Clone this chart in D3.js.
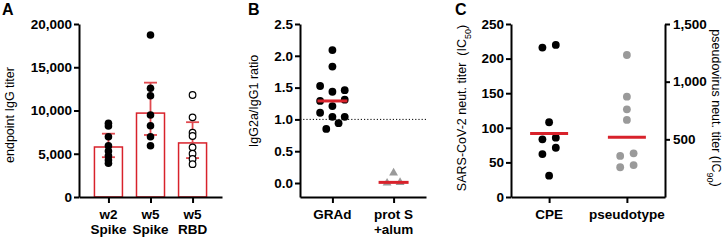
<!DOCTYPE html>
<html lang="en">
<head>
<meta charset="UTF-8" />
<title>Immunogenicity panels</title>
<style>
  body { margin: 0; background: #fff; }
  text { font-family: "Liberation Sans", Arial, sans-serif; }
</style>
</head>
<body>
<svg id="chart" width="724" height="240"></svg>
<script src="https://d3js.org/d3.v7.min.js"></script>
<script>
// ---- data ----
// panel A: endpoint IgG titer
const groupsA = ['w2|Spike', 'w5|Spike', 'w5|RBD'];
const meanA = [5780, 9700, 6250];
const errLowA = [4600, 7170, 4500];
const errHighA = [7320, 13220, 8650];
const w2Spike = [8520, 8210, 6970, 5920, 5320, 4770, 4280, 3900];
const w5Spike = [18730, 12570, 11710, 9480, 8240, 6970, 5930];
const w5RBD = [11790, 9210, 7430, 7050, 5740, 5000, 4400, 3800];
const ticksA = [0, 5000, 10000, 15000, 20000];

// panel B: IgG2a/IgG1 ratio
const groupsB = ['GRAd', 'prot S|+alum'];
const ratioGRAd = [2.09, 1.83, 1.525, 1.435, 1.46, 1.29, 1.21, 1.31, 1.105, 1.04, 1.04, 0.85, 0.94];
const ratioProtS = [0.16, 0.0, 0.01];
const ticksB = [0, 0.5, 1.0, 1.5, 2.0, 2.5];

// panel C: neutralisation titers
const groupsC = ['CPE', 'pseudotype'];
const cpeIC50 = [216, 219.7, 108, 83.4, 85.7, 62.1, 71.2, 30.8];
const pseudoIC90 = [1231, 870, 760, 668, 356, 379, 258, 277];
const ticksCLeft = [0, 50, 100, 150, 200, 250];
const ticksCRight = [500, 1000, 1500];

// ---- setup ----
const svg = d3.select('#chart');
const red = '#d8222b';
const gray = '#9a9a9a';
const yTop = 24, yBottom = 197;

// points with overlapping y share a row and are spread sideways
function rowOffsets(vals, y, spacing, diam) {
  const order = d3.range(vals.length).sort((a, b) => y(vals[a]) - y(vals[b]));
  const off = vals.map(() => 0);
  let row = [], start = null;
  const flush = () => {
    row.sort((a, b) => a - b);
    row.forEach((k, j) => off[k] = (j - (row.length - 1) / 2) * spacing);
  };
  order.forEach(k => {
    const py = y(vals[k]);
    if (start === null || py - start >= diam) {
      if (row.length) flush();
      row = [k]; start = py;
    } else row.push(k);
  });
  flush();
  return off;
}

function styleAxis(g) {
  g.select('.domain').attr('stroke', '#000').attr('stroke-width', 2);
  g.selectAll('.tick line').attr('stroke', '#000').attr('stroke-width', 2);
  g.selectAll('.tick text').attr('font-size', 13.5).attr('font-weight', 'bold')
    .attr('font-family', '"Liberation Sans", Arial, sans-serif').attr('fill', '#000');
}

function bottomAxis(x) {
  const g = svg.append('g').attr('transform', `translate(0,${yBottom})`)
    .call(d3.axisBottom(x).tickSize(6).tickSizeOuter(0).tickFormat(''));
  styleAxis(g);
  x.domain().forEach(name => {
    const t = svg.append('text').attr('x', x(name)).attr('y', 219)
      .attr('text-anchor', 'middle').attr('font-size', 13.5).attr('font-weight', 'bold');
    name.split('|').forEach((line, i) => {
      t.append('tspan').attr('x', x(name)).attr('dy', i ? 15 : 0).text(line);
    });
  });
}

function yLabel(x, y, rot, parts) {
  const t = svg.append('text')
    .attr('transform', `translate(${x},${y}) rotate(${rot})`)
    .attr('text-anchor', 'middle').attr('font-size', 12.5);
  parts.forEach(p => {
    const s = t.append('tspan').text(p[0]);
    if (p[1]) s.attr('font-size', 9).attr('baseline-shift', 'sub');
  });
}

function panelLetter(x, l) {
  svg.append('text').attr('x', x).attr('y', 15).attr('font-size', 16)
    .attr('font-weight', 'bold').text(l);
}

// ---- panel A ----
panelLetter(2, 'A');
const xA = d3.scalePoint().domain(groupsA).range([79, 222]).padding(0.7);
const yA = d3.scaleLinear().domain([0, 20000]).range([yBottom, yTop]);
const ptsA = [w2Spike, w5Spike, w5RBD];

svg.append('g').selectAll('rect').data(meanA).join('rect')
  .attr('x', (d, i) => xA(groupsA[i]) - 14).attr('width', 28)
  .attr('y', d => yA(d)).attr('height', d => yBottom - yA(d))
  .attr('fill', '#fff').attr('stroke', red).attr('stroke-width', 1.5);

const errA = svg.append('g').attr('stroke', '#e04a50').attr('stroke-width', 1.8);
groupsA.forEach((gname, i) => {
  const cx = xA(gname);
  errA.append('line').attr('x1', cx).attr('x2', cx).attr('y1', yA(errLowA[i])).attr('y2', yA(errHighA[i]));
  [errLowA[i], errHighA[i]].forEach(v => {
    errA.append('line').attr('x1', cx - 6.5).attr('x2', cx + 6.5).attr('y1', yA(v)).attr('y2', yA(v));
  });
});

ptsA.forEach((vals, i) => {
  svg.append('g').selectAll('circle').data(vals).join('circle')
    .attr('cx', xA(groupsA[i])).attr('cy', d => yA(d))
    .attr('r', i === 2 ? 3.3 : 3.8)
    .attr('fill', i === 2 ? '#fff' : '#000')
    .attr('stroke', '#000').attr('stroke-width', i === 2 ? 1.2 : 0);
});

styleAxis(svg.append('g').attr('transform', 'translate(79,0)')
  .call(d3.axisLeft(yA).tickValues(ticksA).tickSize(5).tickPadding(2).tickSizeOuter(0).tickFormat(d3.format(','))));
bottomAxis(xA);
yLabel(14, 115, -90, [['endpoint IgG titer']]);

// ---- panel B ----
panelLetter(248, 'B');
const xB = d3.scalePoint().domain(groupsB).range([300, 426]).padding(0.53);
const yB = d3.scaleLinear().domain([-0.22, 2.5]).range([yBottom, yTop]);

svg.append('line').attr('x1', 300).attr('x2', 426).attr('y1', yB(1)).attr('y2', yB(1))
  .attr('stroke', '#000').attr('stroke-width', 1).attr('stroke-dasharray', '1.2,2');

const offG = rowOffsets(ratioGRAd, yB, 12.3, 8);
svg.append('g').selectAll('circle').data(ratioGRAd).join('circle')
  .attr('cx', (d, i) => xB(groupsB[0]) + offG[i]).attr('cy', d => yB(d))
  .attr('r', 3.9).attr('fill', '#000');

const offP = rowOffsets(ratioProtS, yB, 13, 8);
svg.append('g').selectAll('path').data(ratioProtS).join('path')
  .attr('d', d3.symbol(d3.symbolTriangle, 34))
  .attr('transform', (d, i) => `translate(${xB(groupsB[1]) + offP[i]},${yB(d)})`)
  .attr('fill', gray);

[ratioGRAd, ratioProtS].forEach((vals, i) => {
  const m = d3.median(vals), cx = xB(groupsB[i]);
  svg.append('line').attr('x1', cx - 15).attr('x2', cx + 15).attr('y1', yB(m)).attr('y2', yB(m))
    .attr('stroke', red).attr('stroke-width', 3);
});

styleAxis(svg.append('g').attr('transform', 'translate(300,0)')
  .call(d3.axisLeft(yB).tickValues(ticksB).tickSize(5).tickPadding(2).tickSizeOuter(0).tickFormat(d3.format('.1f'))));
bottomAxis(xB);
yLabel(258, 101, -90, [['IgG2a/IgG1 ratio']]);

// ---- panel C ----
panelLetter(455, 'C');
const xC = d3.scalePoint().domain(groupsC).range([511, 665]).padding(0.49);
const yC = d3.scaleLinear().domain([0, 250]).range([yBottom, yTop]);
const yC2 = d3.scaleLinear().domain([0, 1500]).range([yBottom, yTop]);

const offC = rowOffsets(cpeIC50, yC, 13.4, 8);
svg.append('g').selectAll('circle').data(cpeIC50).join('circle')
  .attr('cx', (d, i) => xC(groupsC[0]) + offC[i]).attr('cy', d => yC(d))
  .attr('r', 3.9).attr('fill', '#000');

const offS = rowOffsets(pseudoIC90, yC2, 13.4, 8);
svg.append('g').selectAll('circle').data(pseudoIC90).join('circle')
  .attr('cx', (d, i) => xC(groupsC[1]) + offS[i]).attr('cy', d => yC2(d))
  .attr('r', 3.9).attr('fill', gray);

// geometric means
const geo = vals => Math.exp(d3.mean(vals, v => Math.log(v)));
[[cpeIC50, yC], [pseudoIC90, yC2]].forEach(([vals, y], i) => {
  const cx = xC(groupsC[i]), gm = geo(vals);
  svg.append('line').attr('x1', cx - 19).attr('x2', cx + 19).attr('y1', y(gm)).attr('y2', y(gm))
    .attr('stroke', red).attr('stroke-width', 3);
});

styleAxis(svg.append('g').attr('transform', 'translate(511,0)')
  .call(d3.axisLeft(yC).tickValues(ticksCLeft).tickSize(5).tickPadding(2).tickSizeOuter(0)));
styleAxis(svg.append('g').attr('transform', 'translate(665,0)')
  .call(d3.axisRight(yC2).tickValues(ticksCRight).tickSize(5).tickPadding(3).tickSizeOuter(0).tickFormat(d3.format(','))));
bottomAxis(xC);
yLabel(466, 108, -90, [['SARS-CoV-2 neut. titer\u00a0\u00a0(IC'], ['50', true], [')']]);
yLabel(712, 108, 90, [['pseudovirus neut. titer (IC'], ['90', true], [')']]);
</script>
</body>
</html>
